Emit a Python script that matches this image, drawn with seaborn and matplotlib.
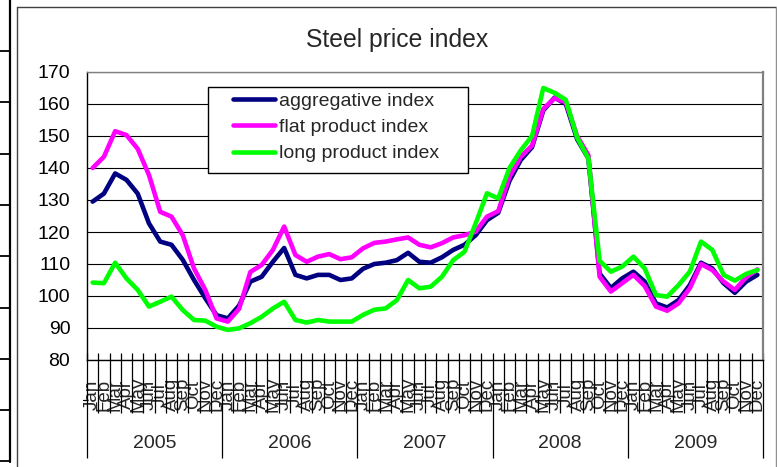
import numpy as np
import pandas as pd
import matplotlib
matplotlib.use("Agg")
import matplotlib.pyplot as plt
from matplotlib.patches import Rectangle
from matplotlib.lines import Line2D
import seaborn as sns

# ---------------- data ----------------
years = ["2005", "2006", "2007", "2008", "2009"]
month_names = ["Jan", "Feb", "Mar", "Apr", "May", "Jun",
               "Jul", "Aug", "Sep", "Oct", "Nov", "Dec"]

aggregative_index = [
    129.5, 132.0, 138.3, 136.3, 132.0, 122.7, 117.0, 116.0, 111.3, 105.0, 99.3, 94.0,
    93.0, 97.0, 104.5, 106.0, 110.7, 115.0, 106.6, 105.5, 106.6, 106.6, 105.0, 105.5,
    108.5, 110.0, 110.4, 111.2, 113.5, 110.7, 110.4, 112.1, 114.4, 116.0, 119.0, 123.7,
    126.0, 136.0, 142.5, 146.5, 158.0, 162.0, 160.0, 149.0, 143.0, 107.0, 102.5, 105.5,
    107.6, 104.5, 97.7, 96.4, 98.7, 103.4, 110.4, 108.6, 104.0, 101.0, 104.5, 106.6,
]
flat_product_index = [
    140.0, 143.5, 151.5, 150.3, 146.0, 137.8, 126.3, 124.8, 119.0, 108.6, 101.9, 93.0,
    92.0, 96.0, 107.5, 109.7, 114.4, 121.7, 112.8, 110.7, 112.3, 113.1, 111.5, 112.1,
    114.9, 116.6, 117.0, 117.7, 118.3, 116.0, 115.2, 116.5, 118.3, 119.0, 120.1, 124.8,
    126.5, 137.3, 143.5, 147.0, 158.5, 161.8, 160.5, 150.0, 144.0, 106.0, 101.4, 104.0,
    106.6, 103.1, 96.7, 95.4, 97.7, 102.4, 110.0, 108.1, 104.5, 101.9, 105.8, 108.3,
]
long_product_index = [
    104.2, 104.0, 110.4, 105.5, 101.9, 96.7, 98.2, 99.8, 95.6, 92.5, 92.3, 90.4,
    89.4, 89.9, 91.5, 93.5, 96.1, 98.2, 92.5, 91.7, 92.5, 92.0, 92.0, 92.0,
    94.1, 95.7, 96.1, 98.7, 105.0, 102.4, 102.9, 106.0, 111.2, 113.8, 122.7, 132.1,
    130.5, 140.0, 145.5, 150.0, 165.0, 163.5, 161.3, 149.5, 143.0, 111.0, 107.6, 109.2,
    112.3, 108.6, 100.3, 99.8, 103.4, 107.6, 117.0, 114.4, 106.6, 104.8, 106.9, 108.1,
]

series_names = ["aggregative index", "flat product index", "long product index"]
series_colors = ["#000080", "#FF00FF", "#00FF00"]

month_labels = [m for _ in years for m in month_names]
n = len(month_labels)

df = pd.DataFrame({
    "idx": np.tile(np.arange(n), 3),
    "value": aggregative_index + flat_product_index + long_product_index,
    "series": np.repeat(series_names, n),
})

# ---------------- style ----------------
sns.set_style("white")
plt.rcParams["font.family"] = ["Liberation Sans", "DejaVu Sans"]

W, H = 777, 467
fig = plt.figure(figsize=(W / 100, H / 100), dpi=100)

def fx(px):
    return px / W

def fy(py):
    return 1 - py / H

# plot area: x 87..763, y 72..360
ax = fig.add_axes([fx(87), fy(360), (763 - 87) / W, (360 - 72) / H])

sns.lineplot(data=df, x="idx", y="value", hue="series",
             hue_order=series_names, palette=series_colors,
             linewidth=3.3, ax=ax, legend=False)

ax.set_xlim(-0.5, n - 0.5)
ax.set_ylim(80, 170)
ax.set_yticks(np.arange(80, 171, 10))
ax.set_xlabel("")
ax.set_ylabel("")
ax.yaxis.grid(True, color="black", linewidth=0.8)
ax.set_axisbelow(True)
ax.tick_params(axis="y", length=0, pad=12, labelsize=14, colors="black")

ax.set_xticks(np.arange(n))
ax.set_xticklabels(month_labels, rotation=90, fontsize=13.5)
ax.tick_params(axis="x", length=0, pad=25)
for lbl in ax.get_xticklabels():
    lbl.set_verticalalignment("center")

for side in ["left", "bottom"]:
    ax.spines[side].set_color("black")
    ax.spines[side].set_linewidth(1.0)
ax.spines["top"].set_color("#808080")
ax.spines["top"].set_linewidth(1.0)
ax.spines["right"].set_color("#808080")
ax.spines["right"].set_linewidth(1.6)

# multi-level category separators
xtr = ax.get_xaxis_transform()
ph = 360 - 72
year_bounds = np.arange(0, n + 1, 12) - 0.5
month_bounds = [b for b in np.arange(n + 1) - 0.5 if b not in year_bounds]
ax.vlines(month_bounds, -53 / ph, 7 / ph, transform=xtr, colors="black",
          linewidth=0.9, clip_on=False)
ax.vlines(year_bounds, -98 / ph, 7 / ph, transform=xtr, colors="black",
          linewidth=0.9, clip_on=False)
ax.plot([-0.5 - 4 / 676 * n, -0.5], [-40 / ph, -40 / ph], transform=xtr,
        color="black", linewidth=0.9, clip_on=False)

for k, yr in enumerate(years):
    ax.text(12 * k + 5.5, -83 / ph, yr, transform=xtr, ha="center",
            va="center", fontsize=14)

# title
fig.text(fx(397), fy(40), "Steel price index", ha="center", va="center",
         fontsize=17.8)

# legend box + legend
ax.add_patch(Rectangle((fx(208), fy(173)), fx(468) - fx(208), fy(87) - fy(173),
                       transform=fig.transFigure, facecolor="white",
                       edgecolor="black", linewidth=1.0, zorder=4,
                       clip_on=False))
handles = [Line2D([], [], color=c, linewidth=3.3) for c in series_colors]
leg = ax.legend(handles, series_names, loc="upper left",
                bbox_to_anchor=(fx(233), fy(92)), bbox_transform=fig.transFigure,
                frameon=False, borderpad=0, borderaxespad=0,
                handlelength=2.16, handletextpad=0.2, labelspacing=0.45,
                fontsize=14)
leg.set_zorder(5)

# chart-area frame and sheet cell borders
frame_col = "#404040"
fig.add_artist(Line2D([fx(17), fx(17)], [fy(7), 0], color=frame_col, linewidth=1.0))
fig.add_artist(Line2D([fx(17), fx(776)], [fy(7), fy(7)], color=frame_col, linewidth=1.0))
fig.add_artist(Line2D([fx(776), fx(776)], [fy(7), 0], color="#909090", linewidth=1.0))
fig.add_artist(Line2D([fx(10), fx(10)], [1, fy(462)], color="black", linewidth=1.6))
for k in range(9):
    yy = 51 + 51.3 * k
    fig.add_artist(Line2D([0, fx(10)], [fy(yy), fy(yy)], color="black", linewidth=1.3))

fig.savefig("out.png", dpi=100)
